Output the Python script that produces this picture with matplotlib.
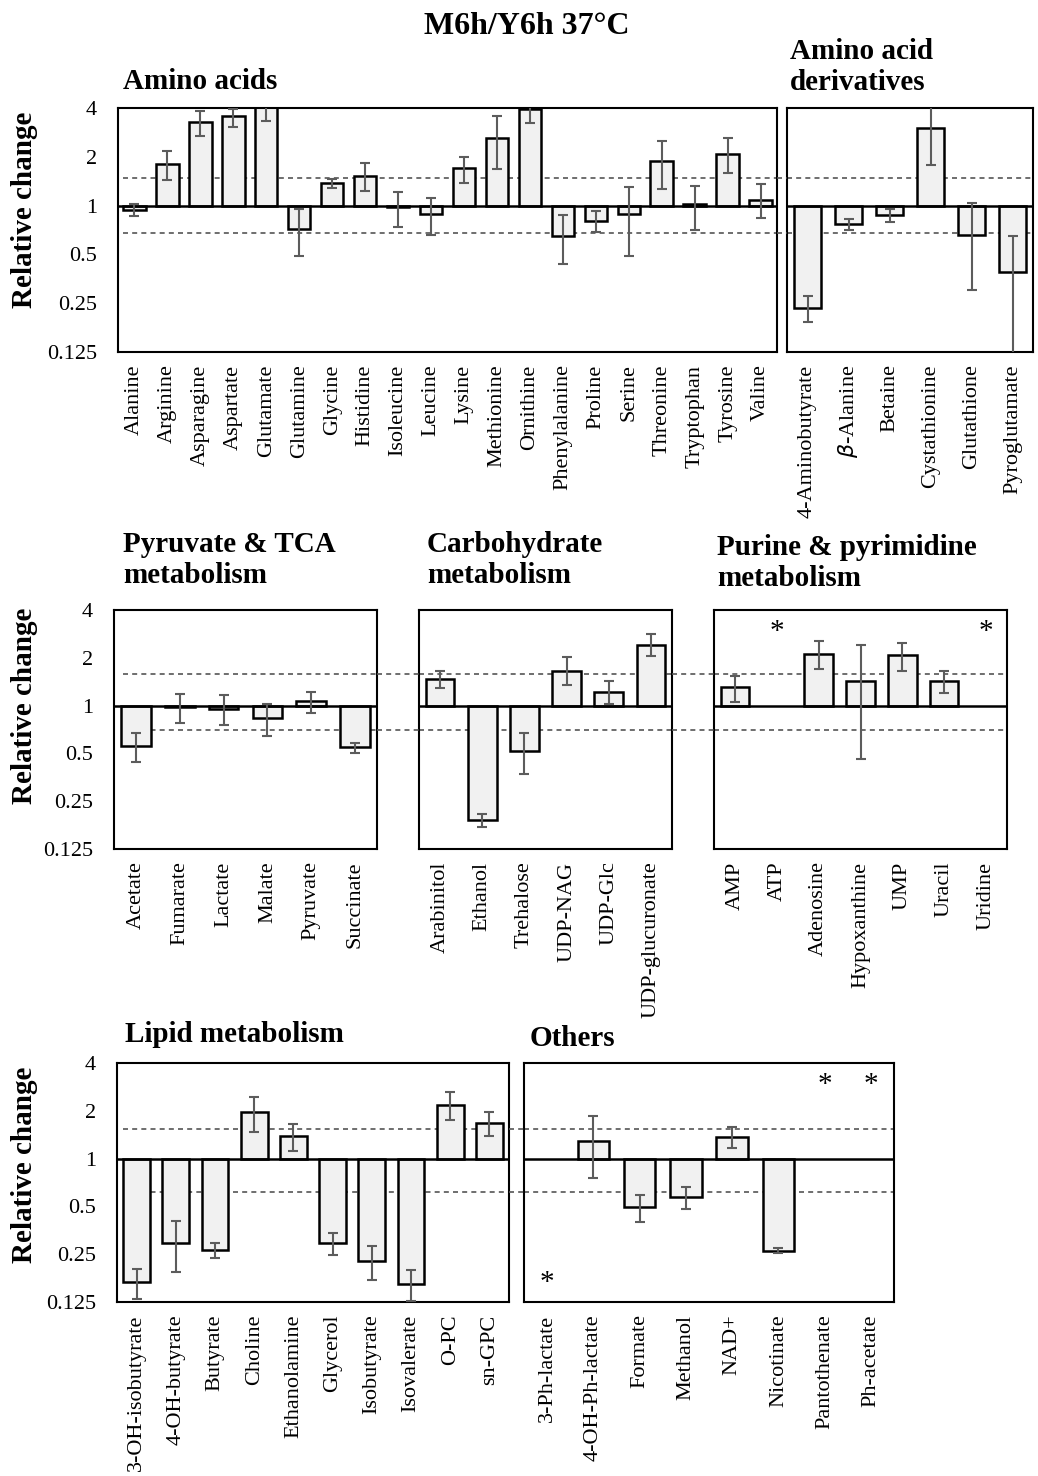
import matplotlib
matplotlib.use("Agg")
import matplotlib.pyplot as plt
import matplotlib.transforms as mtransforms
from matplotlib.lines import Line2D
import numpy as np

plt.rcParams["font.family"] = ["Liberation Serif", "DejaVu Serif"]

# ---------------------------------------------------------------- data
# relative change (M6h / Y6h), with lower / upper error-bar ends
aa_names = ["Alanine", "Arginine", "Asparagine", "Aspartate", "Glutamate", "Glutamine",
            "Glycine", "Histidine", "Isoleucine", "Leucine", "Lysine", "Methionine",
            "Ornithine", "Phenylalanine", "Proline", "Serine", "Threonine",
            "Tryptophan", "Tyrosine", "Valine"]
aa_vals = [0.94, 1.81, 3.29, 3.56, 5.2, 0.72, 1.37, 1.53, 0.98, 0.89, 1.70, 2.60,
           3.94, 0.65, 0.80, 0.89, 1.88, 1.02, 2.09, 1.09]
aa_lo = [0.86, 1.44, 2.69, 3.04, 3.32, 0.49, 1.29, 1.23, 0.74, 0.66, 1.37, 1.67,
         3.24, 0.435, 0.685, 0.49, 1.26, 0.705, 1.58, 0.84]
aa_hi = [1.03, 2.18, 3.86, 3.97, 8.0, 0.95, 1.45, 1.83, 1.21, 1.12, 1.99, 3.57,
         4.8, 0.87, 0.92, 1.30, 2.49, 1.33, 2.60, 1.35]

der_names = ["4-Aminobutyrate", r"$\beta$-Alanine", "Betaine", "Cystathionine",
             "Glutathione", "Pyroglutamate"]
der_vals = [0.232, 0.773, 0.877, 3.01, 0.662, 0.388]
der_lo = [0.191, 0.71, 0.79, 1.78, 0.30, 0.10]
der_hi = [0.276, 0.83, 0.95, 5.0, 1.04, 0.65]

tca_names = ["Acetate", "Fumarate", "Lactate", "Malate", "Pyruvate", "Succinate"]
tca_vals = [0.554, 0.985, 0.953, 0.832, 1.07, 0.547]
tca_lo = [0.442, 0.78, 0.75, 0.644, 0.895, 0.504]
tca_hi = [0.673, 1.19, 1.17, 1.02, 1.22, 0.585]

carb_names = ["Arabinitol", "Ethanol", "Trehalose", "UDP-NAG", "UDP-Glc",
              "UDP-glucuronate"]
carb_vals = [1.48, 0.19, 0.518, 1.66, 1.22, 2.42]
carb_lo = [1.30, 0.171, 0.372, 1.34, 1.02, 2.04]
carb_hi = [1.64, 0.209, 0.668, 2.01, 1.43, 2.81]

pur_names = ["AMP", "ATP", "Adenosine", "Hypoxanthine", "UMP", "Uracil", "Uridine"]
pur_vals = [1.31, np.nan, 2.12, 1.43, 2.09, 1.43, np.nan]
pur_lo = [1.06, np.nan, 1.69, 0.46, 1.66, 1.20, np.nan]
pur_hi = [1.54, np.nan, 2.56, 2.42, 2.49, 1.66, np.nan]
pur_stars = [("ATP", "top"), ("Uridine", "top")]

lip_names = ["3-OH-isobutyrate", "4-OH-butyrate", "Butyrate", "Choline",
             "Ethanolamine", "Glycerol", "Isobutyrate", "Isovalerate", "O-PC", "sn-GPC"]
lip_vals = [0.168, 0.296, 0.265, 1.96, 1.38, 0.292, 0.226, 0.163, 2.19, 1.67]
lip_lo = [0.13, 0.193, 0.235, 1.47, 1.11, 0.248, 0.171, 0.127, 1.74, 1.38]
lip_hi = [0.202, 0.406, 0.296, 2.45, 1.65, 0.341, 0.281, 0.198, 2.61, 1.96]

oth_names = ["3-Ph-lactate", "4-OH-Ph-lactate", "Formate", "Methanol", "NAD+",
             "Nicotinate", "Pantothenate", "Ph-acetate"]
oth_vals = [np.nan, 1.30, 0.498, 0.57, 1.36, 0.263, np.nan, np.nan]
oth_lo = [np.nan, 0.75, 0.401, 0.485, 1.16, 0.254, np.nan, np.nan]
oth_hi = [np.nan, 1.86, 0.594, 0.66, 1.57, 0.272, np.nan, np.nan]
oth_stars = [("3-Ph-lactate", "bottom"), ("Pantothenate", "top"), ("Ph-acetate", "top")]

# fold-change cut-offs (dashed lines) per row
row_cut = [(1.47, 0.675), (1.59, 0.70), (1.53, 0.615)]

yticks = [4, 2, 1, 0.5, 0.25, 0.125]
ytick_labels = ["4", "2", "1", "0.5", "0.25", "0.125"]

# ---------------------------------------------------------------- layout
W, H = 1038, 1476
fig = plt.figure(figsize=(W / 100, H / 100), dpi=100)

BAR_FILL = "#f1f1f1"
ERR_COL = "#5c5c5c"
DASH_COL = "#555555"


def px_axes(x0, y0, x1, y1):
    return fig.add_axes([x0 / W, 1 - y1 / H, (x1 - x0) / W, (y1 - y0) / H])


def panel(ax, names, vals, lo, hi, cut, first=False, dash_start=0.0, stars=()):
    vals = np.asarray(vals, float)
    lo = np.asarray(lo, float)
    hi = np.asarray(hi, float)
    x = np.arange(len(names))
    ok = ~np.isnan(vals)
    ax.set_yscale("log", base=2)
    ax.set_ylim(0.125, 4)
    ax.set_xlim(-0.5, len(names) - 0.5)
    for c in cut:
        ax.axhline(c, xmin=dash_start, color=DASH_COL, lw=1.2, ls=(0, (3, 2.5)), zorder=1)
    ax.bar(x[ok], vals[ok] - 1, bottom=1, width=0.68, color=BAR_FILL,
           edgecolor="black", linewidth=1.8, zorder=2)
    ax.errorbar(x[ok], vals[ok], yerr=[vals[ok] - lo[ok], hi[ok] - vals[ok]],
                fmt="none", ecolor=ERR_COL, elinewidth=1.5, capsize=3.8,
                capthick=1.5, zorder=4)
    ax.axhline(1, color="black", lw=1.8, zorder=3)
    for name, where in stars:
        i = names.index(name)
        ax.text(i, 0.91 if where == "top" else 0.08, "*", fontsize=21,
                ha="center", va="center",
                transform=mtransforms.blended_transform_factory(ax.transData, ax.transAxes))
    ax.set_xticks(x)
    ax.set_xticklabels(names, rotation=90, fontsize=16)
    ax.tick_params(axis="both", length=0, pad=9)
    ax.yaxis.set_minor_locator(matplotlib.ticker.NullLocator())
    if first:
        ax.set_yticks(yticks)
        ax.set_yticklabels(ytick_labels, fontsize=16)
        ax.tick_params(axis="y", pad=15)
    else:
        ax.set_yticks([])
    for s in ax.spines.values():
        s.set_linewidth(1.5)
        s.set_color("black")


def gap_dash(ax, x0, x1, cut):
    tr = mtransforms.blended_transform_factory(fig.transFigure, ax.transData)
    for c in cut:
        fig.add_artist(Line2D([x0 / W, x1 / W], [c, c], transform=tr, color=DASH_COL,
                              lw=1.2, ls=(0, (3, 2.5))))


# row 1
ax1 = px_axes(118, 108, 777, 352)
panel(ax1, aa_names, aa_vals, aa_lo, aa_hi, row_cut[0], first=True, dash_start=5 / 659)
ax2 = px_axes(787, 108, 1033, 352)
panel(ax2, der_names, der_vals, der_lo, der_hi, row_cut[0])
gap_dash(ax1, 777, 787, row_cut[0])

# row 2
ax3 = px_axes(114, 610, 377, 849)
panel(ax3, tca_names, tca_vals, tca_lo, tca_hi, row_cut[1], first=True, dash_start=9 / 263)
ax4 = px_axes(419, 610, 672, 849)
panel(ax4, carb_names, carb_vals, carb_lo, carb_hi, row_cut[1])
ax5 = px_axes(714, 610, 1007, 849)
panel(ax5, pur_names, pur_vals, pur_lo, pur_hi, row_cut[1], stars=pur_stars)
gap_dash(ax3, 377, 419, row_cut[1])
gap_dash(ax4, 672, 714, row_cut[1])

# row 3
ax6 = px_axes(117, 1063, 509, 1302)
panel(ax6, lip_names, lip_vals, lip_lo, lip_hi, row_cut[2], first=True, dash_start=6 / 392)
ax7 = px_axes(524, 1063, 894, 1302)
panel(ax7, oth_names, oth_vals, oth_lo, oth_hi, row_cut[2], stars=oth_stars)
gap_dash(ax6, 509, 524, row_cut[2])

# ---------------------------------------------------------------- text
fig.text(527 / W, 1 - 12 / H, "M6h/Y6h 37°C", fontsize=23, fontweight="bold",
         ha="center", va="top")

titles = [("Amino acids", 123, 68), ("Amino acid\nderivatives", 790, 38),
          ("Pyruvate & TCA\nmetabolism", 123, 531), ("Carbohydrate\nmetabolism", 427, 531),
          ("Purine & pyrimidine\nmetabolism", 717, 534),
          ("Lipid metabolism", 125, 1021), ("Others", 530, 1025)]
for txt, x, y in titles:
    fig.text(x / W, 1 - y / H, txt, fontsize=21, fontweight="bold", ha="left",
             va="top", linespacing=1.2)

for yc in [210, 706, 1165]:
    fig.text(25 / W, 1 - yc / H, "Relative change", fontsize=21, fontweight="bold",
             rotation=90, ha="center", va="center")

fig.savefig("out.png", dpi=100)
